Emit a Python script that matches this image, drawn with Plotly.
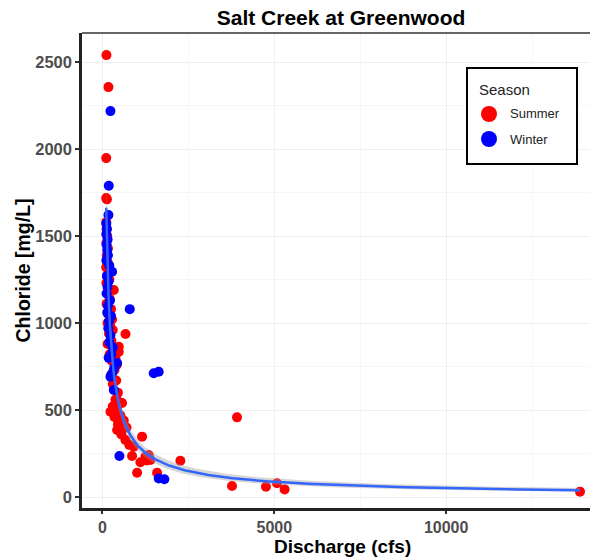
import numpy as np
import plotly.graph_objects as go

# Summer samples: discharge (cfs), chloride (mg/L)
summer_q = [116, 174, 110, 110, 130,
            110, 120, 140, 112, 160, 125, 150, 110, 180, 130, 200, 115, 160, 330, 140,
            210, 120, 250, 170, 280, 150, 230, 300, 190, 670, 260, 150, 475, 330, 210,
            475, 380, 280, 420, 350, 250, 400, 300, 450,
            380, 470, 570, 300, 233, 420, 520, 350, 620, 450, 700, 427, 550, 669,
            1153, 911, 780, 862, 1105, 1346, 1250, 1290, 1395, 2267, 1008, 1590,
            3915, 3770, 4757, 5078, 5300, 13895]
summer_cl = [2540, 2356, 1948, 1718, 1711,
             1580, 1540, 1500, 1460, 1430, 1390, 1350, 1320, 1300, 1270, 1250, 1230, 1200, 1190, 1170,
             1140, 1110, 1080, 1050, 1020, 1000, 980, 960, 940, 937, 900, 880, 864, 850, 820,
             835, 800, 780, 760, 730, 700, 670, 650, 600,
             560, 548, 540, 520, 490, 500, 470, 460, 440, 420, 400, 385, 360, 328,
             347, 289, 300, 236, 200, 241, 232, 210, 213, 209, 140, 140,
             458, 63, 59, 79, 44, 31]

# Winter samples
winter_q = [233, 184, 175, 112, 130, 112, 150, 120, 140, 160, 114, 200, 281, 130, 180,
            150, 120, 220, 160, 140, 250, 190, 170, 230, 200, 300, 260, 180, 427, 340,
            233, 280, 330, 795, 1492, 1637, 494, 1638, 1802]
winter_cl = [2218, 1789, 1621, 1570, 1540, 1510, 1480, 1450, 1420, 1390, 1360, 1330, 1295, 1270, 1240,
             1210, 1170, 1130, 1100, 1060, 1040, 1010, 970, 930, 890, 860, 820, 800, 770, 740,
             691, 710, 615, 1080, 711, 720, 236, 107, 102]

x_ticks = [0, 5000, 10000]
x_labels = ['0', '5000', '10000']
y_ticks = [0, 500, 1000, 1500, 2000, 2500]
y_labels = ['0', '500', '1000', '1500', '2000', '2500']

seasons = ['Summer', 'Winter']
season_colors = ['#FF0000', '#0000FF']

# power-law fit: lm of log(cl) on log(q), band back-transformed
q = np.array(summer_q + winter_q, dtype=float)
cl = np.array(summer_cl + winter_cl, dtype=float)
lx, ly = np.log(q), np.log(cl)
b, a = np.polyfit(lx, ly, 1)
res = ly - (a + b * lx)
n = len(q)
s = np.sqrt(np.sum(res ** 2) / (n - 2))
sxx = np.sum((lx - lx.mean()) ** 2)

xs = np.linspace(q.min(), q.max(), 400)
lxs = np.log(xs)
pred = a + b * lxs
se = s * np.sqrt(1 / n + (lxs - lx.mean()) ** 2 / sxx)
fit = np.exp(pred)
lo = np.exp(pred - 1.98 * se)
hi = np.exp(pred + 1.98 * se)

fig = go.Figure()

fig.add_trace(go.Scatter(x=summer_q, y=summer_cl, mode='markers', name='Summer',
                         marker=dict(color=season_colors[0], size=10), showlegend=False))
fig.add_trace(go.Scatter(x=winter_q, y=winter_cl, mode='markers', name='Winter',
                         marker=dict(color=season_colors[1], size=10), showlegend=False))

fig.add_trace(go.Scatter(x=np.concatenate([xs, xs[::-1]]), y=np.concatenate([hi, lo[::-1]]),
                         fill='toself', fillcolor='rgba(153,153,153,0.4)',
                         line=dict(width=0), mode='lines', showlegend=False, hoverinfo='skip'))
fig.add_trace(go.Scatter(x=xs, y=fit, mode='lines', line=dict(color='#3366FF', width=2.5),
                         showlegend=False))

# hand-made legend box (ggplot style) in paper coords
L, T, W, H = 82, 33, 508, 475
def px(x):
    return (x - L) / W
def py(y):
    return (T + H - y) / H

shapes = [
    dict(type='line', xref='paper', yref='paper', x0=0, x1=1, y0=1, y1=1,
         line=dict(color='#333333', width=1.5)),
    dict(type='rect', xref='paper', yref='paper', x0=px(467), x1=px(577), y0=py(164), y1=py(68),
         line=dict(color='black', width=2), fillcolor='white', layer='above'),
]
annotations = [
    dict(text='Season', xref='paper', yref='paper', x=px(477), y=py(89), xanchor='left',
         yanchor='middle', showarrow=False,
         font=dict(family='Liberation Sans, Arial', size=15, color='#222222')),
    dict(text='<b>Discharge (cfs)</b>', xref='paper', yref='paper', x=px(342), y=py(558),
         xanchor='center', yanchor='bottom', showarrow=False, borderpad=0,
         font=dict(family='Liberation Sans, Arial', size=19, color='black')),
]
for i, (lab, col) in enumerate(zip(seasons, season_colors)):
    yc = py(114 + 25 * i)
    shapes.append(dict(type='circle', xref='paper', yref='paper', xsizemode='pixel', ysizemode='pixel',
                       xanchor=px(489), yanchor=yc, x0=-8, x1=8, y0=-8, y1=8,
                       fillcolor=col, line=dict(width=0), layer='above'))
    annotations.append(dict(text=lab, xref='paper', yref='paper', x=px(508), y=yc, xanchor='left',
                            yanchor='middle', showarrow=False,
                            font=dict(family='Liberation Sans, Arial', size=13, color='#222222')))

axis_font = dict(family='Liberation Sans, Arial', size=16.5, color='#4D4D4D', weight='bold')
x_font = dict(family='Liberation Sans, Arial', size=16, color='#4D4D4D', weight='bold')
title_font = dict(family='Liberation Sans, Arial', size=19.5, color='black', weight='bold')

fig.update_layout(
    width=590, height=558,
    margin=dict(l=L, r=0, t=T, b=558 - T - H),
    paper_bgcolor='white', plot_bgcolor='white',
    showlegend=False,
    title=dict(text='<b>Salt Creek at Greenwood</b>', x=0.578, xanchor='center',
               y=0.969, yanchor='middle',
               font=dict(family='Liberation Sans, Arial', size=21, color='black')),
    xaxis=dict(range=[-595, 14186], tickvals=x_ticks, ticktext=x_labels, ticks='outside', ticklen=3,
               tickcolor='#333333', tickwidth=1.5, tickfont=x_font,
               showline=True, linecolor='#222222', linewidth=2.5,
               showgrid=True, gridcolor='#EFEFEF', gridwidth=1, zeroline=False,
               minor=dict(dtick=2500, tick0=2500, showgrid=True, gridcolor='#F6F6F6', ticks=''),
               automargin=False),
    yaxis=dict(range=[-63, 2667], tickvals=y_ticks, ticktext=y_labels, ticks='outside', ticklen=4,
               tickcolor='#333333', tickwidth=1.5, tickfont=axis_font,
               showline=True, linecolor='#222222', linewidth=2.5,
               showgrid=True, gridcolor='#EFEFEF', gridwidth=1, zeroline=False,
               minor=dict(dtick=250, tick0=250, showgrid=True, gridcolor='#F6F6F6', ticks=''),
               title=dict(text='Chloride [mg/L]', font=title_font, standoff=0)),
    shapes=shapes,
    annotations=annotations,
)

fig.write_html("out.html", config={'displayModeBar': False},
               post_script="document.body.style.margin='0';document.body.style.overflow='hidden';")
